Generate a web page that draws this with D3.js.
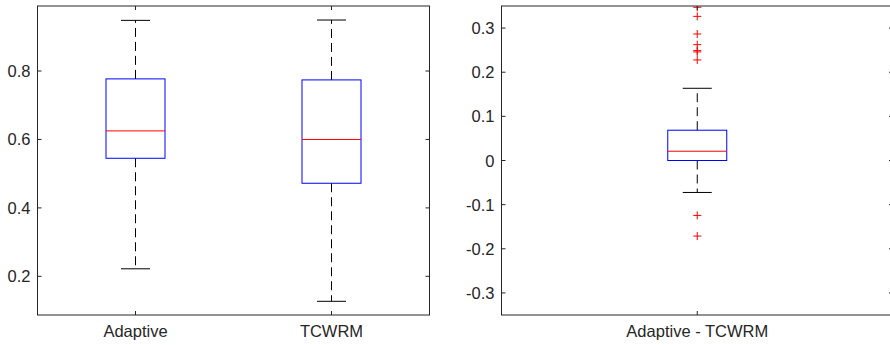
<!DOCTYPE html>
<html>
<head>
<meta charset="utf-8">
<script src="https://cdn.jsdelivr.net/npm/d3@7"></script>
<style>
  body { margin: 0; background: #fff; }
  svg { display: block; font-family: "Liberation Sans", Arial, sans-serif; }
</style>
</head>
<body>
<div id="chart"></div>
<script>
// Left panel: two groups
const leftCategories = ['Adaptive', 'TCWRM'];
const leftWhiskerLow = [0.222, 0.127];
const leftQ1 = [0.545, 0.472];
const leftMedian = [0.625, 0.600];
const leftQ3 = [0.777, 0.774];
const leftWhiskerHigh = [0.948, 0.949];
const leftOutliers = [[], []];
const leftTicks = [0.2, 0.4, 0.6, 0.8];

// Right panel: difference
const rightCategories = ['Adaptive - TCWRM'];
const rightWhiskerLow = [-0.0724];
const rightQ1 = [0.0];
const rightMedian = [0.021];
const rightQ3 = [0.0686];
const rightWhiskerHigh = [0.1636];
const rightOutliers = [[0.347, 0.3265, 0.2866, 0.2624, 0.249, 0.246, 0.2278, -0.1244, -0.1712]];
const rightTicks = [-0.3, -0.2, -0.1, 0, 0.1, 0.2, 0.3];

const width = 890, height = 345;
const svg = d3.select('#chart').append('svg')
    .attr('width', width)
    .attr('height', height);

const axisColor = '#262626';
const fontSize = '16.5px';
const boxW = 59;   // box width in px
const capW = 29;   // whisker cap width in px

function drawPanel(opts) {
    const { left, right, top, bottom, yDomain, ticks, cats, lo, q1, med, q3, hi, outliers, fmt } = opts;
    const g = svg.append('g');

    const x = d3.scaleLinear().domain([0.5, cats.length + 0.5]).range([left, right]);
    const y = d3.scaleLinear().domain(yDomain).range([bottom, top]);

    // clip to keep marks inside the axes
    const clipId = 'clip' + Math.round(left);
    svg.append('clipPath').attr('id', clipId)
        .append('rect').attr('x', left).attr('y', top).attr('width', right - left).attr('height', bottom - top);

    const marks = g.append('g').attr('clip-path', `url(#${clipId})`);

    cats.forEach((c, i) => {
        const cx = x(i + 1);
        // whiskers
        marks.append('line')
            .attr('x1', cx).attr('x2', cx)
            .attr('y1', y(q3[i])).attr('y2', y(hi[i]))
            .attr('stroke', '#000').attr('stroke-width', 1)
            .attr('stroke-dasharray', '9,5');
        marks.append('line')
            .attr('x1', cx).attr('x2', cx)
            .attr('y1', y(q1[i])).attr('y2', y(lo[i]))
            .attr('stroke', '#000').attr('stroke-width', 1)
            .attr('stroke-dasharray', '9,5');
        // caps
        [lo[i], hi[i]].forEach(v => {
            marks.append('line')
                .attr('x1', cx - capW / 2).attr('x2', cx + capW / 2)
                .attr('y1', y(v)).attr('y2', y(v))
                .attr('stroke', '#000').attr('stroke-width', 1);
        });
        // box
        marks.append('rect')
            .attr('x', cx - boxW / 2)
            .attr('y', y(q3[i]))
            .attr('width', boxW)
            .attr('height', y(q1[i]) - y(q3[i]))
            .attr('fill', 'none')
            .attr('stroke', '#0000ff').attr('stroke-width', 1);
        // median
        marks.append('line')
            .attr('x1', cx - boxW / 2).attr('x2', cx + boxW / 2)
            .attr('y1', y(med[i])).attr('y2', y(med[i]))
            .attr('stroke', '#ff0000').attr('stroke-width', 1);
        // outliers
        outliers[i].forEach(v => {
            const py = y(v);
            marks.append('path')
                .attr('d', `M${cx - 4},${py}H${cx + 4}M${cx},${py - 4}V${py + 4}`)
                .attr('stroke', '#ff0000').attr('stroke-width', 1)
                .attr('fill', 'none');
        });
    });

    // axes box
    g.append('rect')
        .attr('x', left).attr('y', top)
        .attr('width', right - left).attr('height', bottom - top)
        .attr('fill', 'none')
        .attr('stroke', axisColor).attr('stroke-width', 1);

    // y ticks (inside, both sides) and labels
    ticks.forEach(t => {
        const ty = y(t);
        g.append('line').attr('x1', left).attr('x2', left + 4).attr('y1', ty).attr('y2', ty)
            .attr('stroke', axisColor);
        g.append('line').attr('x1', right - 4).attr('x2', right).attr('y1', ty).attr('y2', ty)
            .attr('stroke', axisColor);
        g.append('text')
            .attr('x', left - 7).attr('y', ty)
            .attr('text-anchor', 'end')
            .attr('dominant-baseline', 'central')
            .attr('font-size', fontSize)
            .attr('fill', axisColor)
            .text(fmt(t));
    });

    // x ticks and labels
    cats.forEach((c, i) => {
        const cx = x(i + 1);
        g.append('line').attr('x1', cx).attr('x2', cx).attr('y1', bottom).attr('y2', bottom - 4)
            .attr('stroke', axisColor);
        g.append('line').attr('x1', cx).attr('x2', cx).attr('y1', top).attr('y2', top + 4)
            .attr('stroke', axisColor);
        g.append('text')
            .attr('x', cx).attr('y', bottom + 22)
            .attr('text-anchor', 'middle')
            .attr('font-size', fontSize)
            .attr('fill', axisColor)
            .text(c);
    });
}

const fmtTick = v => (v === 0 ? '0' : d3.format('.1f')(v).replace('−', '-'));

drawPanel({
    left: 37.5, right: 429.5, top: 6, bottom: 315,
    yDomain: [0.087, 0.99], ticks: leftTicks, cats: leftCategories,
    lo: leftWhiskerLow, q1: leftQ1, med: leftMedian, q3: leftQ3, hi: leftWhiskerHigh,
    outliers: leftOutliers, fmt: fmtTick
});

drawPanel({
    left: 501.5, right: 893, top: 6, bottom: 315,
    yDomain: [-0.35, 0.35], ticks: rightTicks, cats: rightCategories,
    lo: rightWhiskerLow, q1: rightQ1, med: rightMedian, q3: rightQ3, hi: rightWhiskerHigh,
    outliers: rightOutliers, fmt: fmtTick
});
</script>
</body>
</html>
